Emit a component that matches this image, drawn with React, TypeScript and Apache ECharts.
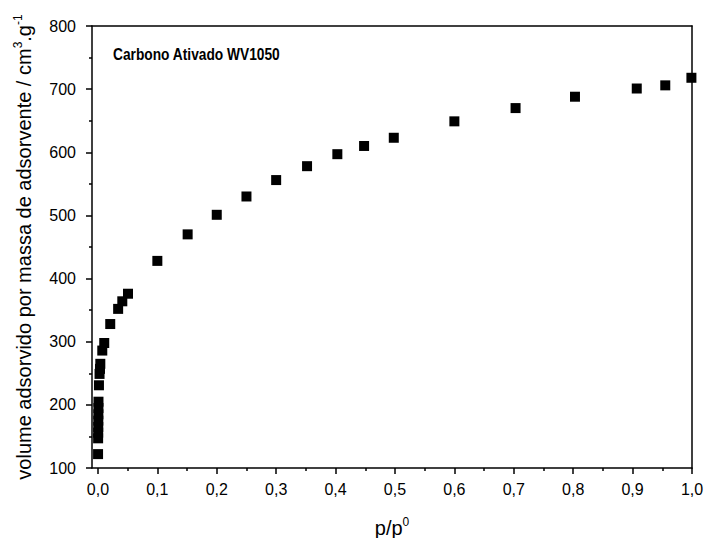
import React, { useEffect, useRef } from "react";
import * as echarts from "echarts";

const pressures = [
  0.0002, 0.0003, 0.0004, 0.0005, 0.0006, 0.0007, 0.0008, 0.0009, 0.0017, 0.0027,
  0.0035, 0.004, 0.0073, 0.0106, 0.0207, 0.034, 0.041, 0.0506, 0.1, 0.151,
  0.2, 0.25, 0.3, 0.352, 0.403, 0.448, 0.498, 0.6, 0.703, 0.803,
  0.907, 0.955, 0.999,
];
const volumes = [
  122, 147, 156, 165, 175, 185, 195, 205, 231, 249,
  257, 265, 286, 298, 328, 352, 364, 376, 428, 470,
  501, 530, 556, 578, 597, 610, 623, 649, 670, 688,
  701, 706, 718,
];
const xMajorTicks = [0, 0.1, 0.2, 0.3, 0.4, 0.5, 0.6, 0.7, 0.8, 0.9, 1.0];
const xMinorTicks = [0.05, 0.15, 0.25, 0.35, 0.45, 0.55, 0.65, 0.75, 0.85, 0.95];
const chartLabel = "Carbono Ativado WV1050";

const FONT = '"Liberation Sans", Arial, sans-serif';

export default function App() {
  const ref = useRef<HTMLDivElement>(null);
  useEffect(() => {
    if (!ref.current) return;
    const chart = echarts.init(ref.current, null, { renderer: "svg" });
    const lineStyle = { color: "#000", width: 1.5 };
    const data = pressures.map((p, i) => [p, volumes[i]]);
    chart.setOption({
      animation: false,
      backgroundColor: "#fff",
      grid: { left: 92, right: 13, top: 26, bottom: 70, containLabel: false, outerBoundsMode: "none" },
      xAxis: [
        {
          type: "value",
          position: "bottom",
          min: -0.01,
          max: 1,
          axisLine: { show: true, onZero: false, lineStyle },
          axisTick: { show: true, customValues: xMajorTicks, length: 6, lineStyle },
          axisLabel: {
            customValues: xMajorTicks,
            formatter: (v: number) => v.toFixed(1).replace(".", ","),
            fontSize: 16,
            color: "#000",
            fontFamily: FONT,
            margin: 13,
          },
          splitLine: { show: false },
          name: "{n|p/p}{s|0}",
          nameLocation: "middle",
          nameGap: 48,
          nameTextStyle: {
            rich: {
              n: { fontSize: 20, color: "#000", fontFamily: FONT, lineHeight: 22, verticalAlign: "bottom" },
              s: { fontSize: 12, color: "#000", fontFamily: FONT, lineHeight: 12, verticalAlign: "top" },
            },
          },
        },
        {
          type: "value",
          position: "bottom",
          min: -0.01,
          max: 1,
          axisLine: { show: false, onZero: false },
          axisTick: { show: true, customValues: xMinorTicks, length: 3, lineStyle },
          axisLabel: { show: false },
          splitLine: { show: false },
        },
        {
          type: "value",
          position: "top",
          min: -0.01,
          max: 1,
          axisLine: { show: true, onZero: false, lineStyle },
          axisTick: { show: false },
          axisLabel: { show: false },
          splitLine: { show: false },
        },
      ],
      yAxis: [
        {
          type: "value",
          position: "left",
          min: 100,
          max: 800,
          interval: 100,
          axisLine: { show: true, onZero: false, lineStyle },
          axisTick: { show: true, length: 6, lineStyle },
          minorTick: { show: true, splitNumber: 2, length: 3, lineStyle },
          axisLabel: { fontSize: 16, color: "#000", fontFamily: FONT, margin: 16 },
          splitLine: { show: false },
          minorSplitLine: { show: false },
          name:
            "{n|volume adsorvido por massa de adsorvente / cm}{s|3}{n|.g}{s|-1}",
          nameLocation: "middle",
          nameGap: 58,
          nameRotate: 90,
          nameTextStyle: {
            rich: {
              n: { fontSize: 20, color: "#000", fontFamily: FONT, lineHeight: 22, verticalAlign: "bottom" },
              s: { fontSize: 12, color: "#000", fontFamily: FONT, lineHeight: 12, verticalAlign: "top" },
            },
          },
        },
        {
          type: "value",
          position: "right",
          min: 100,
          max: 800,
          interval: 100,
          axisLine: { show: true, onZero: false, lineStyle },
          axisTick: { show: false },
          axisLabel: { show: false },
          splitLine: { show: false },
        },
      ],
      graphic: [
        {
          type: "text",
          x: 113,
          y: 46,
          scaleX: 0.86,
          style: {
            text: chartLabel,
            font: `bold 16px ${FONT}`,
            fill: "#000",
          },
        },
      ],
      series: [
        {
          type: "scatter",
          xAxisIndex: 0,
          yAxisIndex: 0,
          symbol: "rect",
          symbolSize: 10,
          itemStyle: { color: "#000", opacity: 1 },
          data,
          clip: true,
        },
      ],
    });
    return () => chart.dispose();
  }, []);
  return (
    <div
      ref={ref}
      style={{ position: "fixed", left: 0, top: 0, width: 705, height: 538, background: "#fff" }}
    />
  );
}
